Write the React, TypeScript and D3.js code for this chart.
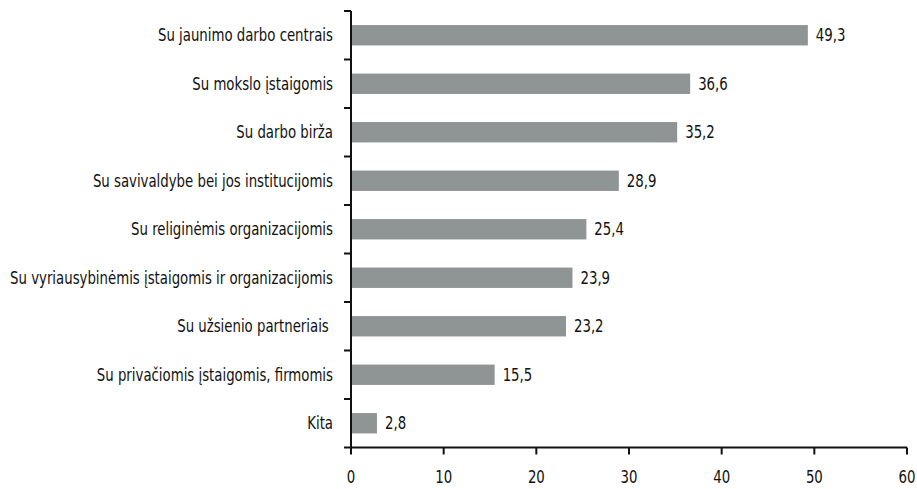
import * as d3 from 'd3'

const categories = [
  'Su jaunimo darbo centrais',
  'Su mokslo įstaigomis',
  'Su darbo birža',
  'Su savivaldybe bei jos institucijomis',
  'Su religinėmis organizacijomis',
  'Su vyriausybinėmis įstaigomis ir organizacijomis',
  'Su užsienio partneriais ',
  'Su privačiomis įstaigomis, firmomis',
  'Kita',
]
const values = [49.3, 36.6, 35.2, 28.9, 25.4, 23.9, 23.2, 15.5, 2.8]
const xTicks = [0, 10, 20, 30, 40, 50, 60]

const width = 917
const height = 489
const left = 351
const right = 907
const top = 11
const bottom = 447.5
const font = '"DejaVu Sans Condensed", "Liberation Sans", sans-serif'
const fs = 17
const squeeze = 0.87

// condensed-looking text: taller glyphs squeezed horizontally
function Label({ x, y, anchor = 'start', children }: { x: number; y: number; anchor?: string; children: any }) {
  return (
    <text
      transform={`translate(${x},${y}) scale(${squeeze},1)`}
      dy="0.35em"
      fontSize={fs}
      textAnchor={anchor}
      fill="#111"
      style={{ whiteSpace: 'pre' }}
    >
      {children}
    </text>
  )
}

export default function App() {
  const x = d3.scaleLinear().domain([0, 60]).range([left, right])
  const y = d3.scaleBand().domain(categories).range([top, bottom]).paddingInner(0.58).paddingOuter(0.29)
  const step = y.step()
  const fmt = (v: number) => v.toFixed(1).replace('.', ',')

  return (
    <svg width={width} height={height} style={{ position: 'absolute', left: 0, top: 0 }} fontFamily={font}>
      {categories.map((c, i) => {
        const cy = (y(c) ?? 0) + y.bandwidth() / 2
        return (
          <g key={c}>
            <rect x={x(0)} y={y(c)} width={x(values[i]) - x(0)} height={y.bandwidth()} fill="#8f9494" />
            <Label x={x(values[i]) + 8} y={cy}>{fmt(values[i])}</Label>
            <Label x={left - 18} y={cy} anchor="end">{c}</Label>
          </g>
        )
      })}
      {/* y axis with ticks between bands */}
      <line x1={left} x2={left} y1={top} y2={bottom} stroke="#111" strokeWidth={2} />
      {d3.range(categories.length + 1).map(i => (
        <line key={i} x1={left - 7} x2={left} y1={top + i * step} y2={top + i * step} stroke="#111" strokeWidth={2} />
      ))}
      {/* x axis */}
      <line x1={left} x2={right} y1={bottom} y2={bottom} stroke="#111" strokeWidth={2} />
      {xTicks.map(t => (
        <g key={t}>
          <line x1={x(t)} x2={x(t)} y1={bottom} y2={bottom + 7} stroke="#111" strokeWidth={2} />
          <Label x={x(t)} y={bottom + 30} anchor="middle">{t}</Label>
        </g>
      ))}
    </svg>
  )
}
